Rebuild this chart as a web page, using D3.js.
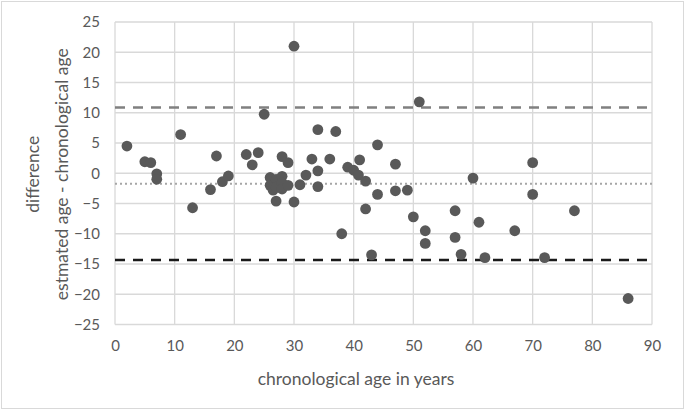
<!DOCTYPE html>
<html>
<head>
<meta charset="utf-8">
<script src="https://cdn.jsdelivr.net/npm/d3@7"></script>
<style>
  body { margin: 0; background: #fff; }
  text { font-family: Lato, "Open Sans", sans-serif; fill: #595959; }
</style>
</head>
<body>
<div id="chart"></div>
<script>
// chronological age (years) and estimated - chronological difference
var ages = [2, 5, 6, 7, 7, 11, 13, 16, 17, 18, 19, 22, 23, 24, 25,
  26, 26, 26.5, 27, 27, 27, 28, 28, 28, 28, 29, 29, 30, 30, 31, 32, 33,
  34, 34, 34, 36, 37, 38, 39, 40, 40.8, 41, 42, 42, 43, 44, 44, 47, 47,
  49, 50, 51, 52, 52, 57, 57, 58, 60, 61, 62, 67, 70, 70, 72, 77, 86];
var diffs = [4.5, 1.9, 1.75, -0.1, -1.0, 6.4, -5.7, -2.7, 2.85, -1.4, -0.45, 3.1, 1.4, 3.4, 9.75,
  -0.7, -2.0, -2.8, -1.0, -2.3, -4.6, 2.75, -0.5, -1.6, -2.6, 1.75, -2.0, 21.0, -4.75, -1.9, -0.3, 2.35,
  7.2, 0.4, -2.2, 2.35, 6.9, -10.0, 1.0, 0.5, -0.3, 2.2, -1.3, -5.9, -13.5, 4.7, -3.5, 1.5, -2.9,
  -2.8, -7.2, 11.8, -9.5, -11.6, -6.2, -10.6, -13.4, -0.8, -8.1, -13.95, -9.5, 1.75, -3.5, -13.95, -6.2, -20.7];

// limits of agreement and mean
var upperLimit = 10.85;
var meanDiff = -1.75;
var lowerLimit = -14.35;

var xTicks = [0, 10, 20, 30, 40, 50, 60, 70, 80, 90];
var yTicks = [-25, -20, -15, -10, -5, 0, 5, 10, 15, 20, 25];

var svgWidth = 685;
var svgHeight = 412;

var margin = { top: 22, right: 33, bottom: 88, left: 115 };
var width = 652 - margin.left;
var height = 324.5 - margin.top;

var svg = d3.select("#chart")
  .append("svg")
  .attr("width", svgWidth)
  .attr("height", svgHeight);

// outer frame
svg.append("rect")
  .attr("x", 1.5).attr("y", 1.5)
  .attr("width", svgWidth - 3).attr("height", svgHeight - 5)
  .attr("fill", "none")
  .attr("stroke", "#d9d9d9");

var chartGroup = svg.append("g")
  .attr("transform", `translate(${margin.left}, ${margin.top})`);

var x = d3.scaleLinear().domain([0, 90]).range([0, width]);
var y = d3.scaleLinear().domain([-25, 25]).range([height, 0]);

// gridlines
chartGroup.append("g")
  .selectAll("line")
  .data(xTicks)
  .enter()
  .append("line")
  .attr("x1", d => x(d)).attr("x2", d => x(d))
  .attr("y1", 0).attr("y2", height)
  .attr("stroke", "#d9d9d9")
  .attr("stroke-width", 1.3);

chartGroup.append("g")
  .selectAll("line")
  .data(yTicks)
  .enter()
  .append("line")
  .attr("x1", 0).attr("x2", width)
  .attr("y1", d => y(d)).attr("y2", d => y(d))
  .attr("stroke", "#d9d9d9")
  .attr("stroke-width", 1.3);

// axes (labels only)
var bottomAxis = d3.axisBottom(x).tickValues(xTicks).tickSize(0).tickPadding(16);
var leftAxis = d3.axisLeft(y).tickValues(yTicks).tickSize(0).tickPadding(15);

var gx = chartGroup.append("g")
  .attr("transform", `translate(0, ${height})`)
  .call(bottomAxis);
var gy = chartGroup.append("g").call(leftAxis);

[gx, gy].forEach(function(g) {
  g.select(".domain").remove();
  g.selectAll("text")
    .style("font-size", "15px")
    .style("font-family", "Lato, sans-serif")
    .attr("fill", "#595959");
});

// reference lines
chartGroup.append("line")
  .attr("x1", 0).attr("x2", width)
  .attr("y1", y(upperLimit)).attr("y2", y(upperLimit))
  .attr("stroke", "#808080")
  .attr("stroke-width", 2.5)
  .attr("stroke-dasharray", "10,8");

chartGroup.append("line")
  .attr("x1", 0).attr("x2", width)
  .attr("y1", y(meanDiff)).attr("y2", y(meanDiff))
  .attr("stroke", "#a6a6a6")
  .attr("stroke-width", 2)
  .attr("stroke-dasharray", "2,3");

chartGroup.append("line")
  .attr("x1", 0).attr("x2", width)
  .attr("y1", y(lowerLimit)).attr("y2", y(lowerLimit))
  .attr("stroke", "#1a1a1a")
  .attr("stroke-width", 2.5)
  .attr("stroke-dasharray", "10,8");

// points
chartGroup.append("g")
  .selectAll("circle")
  .data(ages.map((a, i) => ({ age: a, diff: diffs[i] })))
  .enter()
  .append("circle")
  .attr("cx", d => x(d.age))
  .attr("cy", d => y(d.diff))
  .attr("r", 5.4)
  .attr("fill", "#595959");

// axis titles
chartGroup.append("text")
  .attr("x", 356 - margin.left)
  .attr("y", height + 60)
  .attr("text-anchor", "middle")
  .style("font-size", "17.5px")
  .text("chronological age in years");

var yTitle = chartGroup.append("text")
  .attr("transform", `translate(${39 - margin.left}, ${height / 2 + 1}) rotate(-90)`)
  .attr("text-anchor", "middle")
  .style("font-size", "17.5px");
yTitle.append("tspan").attr("x", 0).attr("dy", 0).text("difference");
yTitle.append("tspan").attr("x", 0).attr("dy", "29px").text("estmated age - chronological age");
</script>
</body>
</html>
